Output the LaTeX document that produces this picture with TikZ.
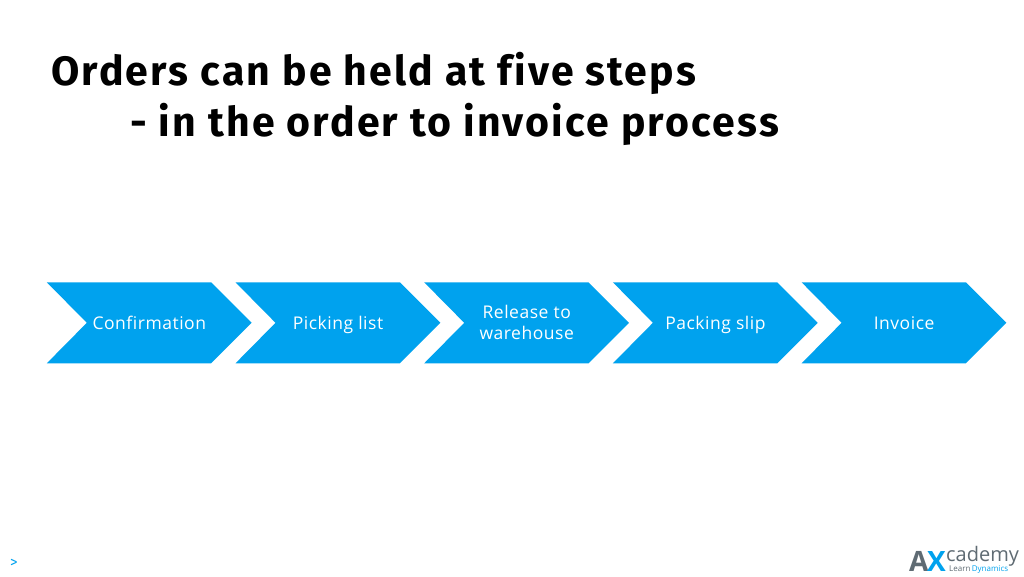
\documentclass[tikz,border=0pt]{standalone}
\usepackage{fontspec}
\setmainfont[Ligatures=NoCommon,BoldFeatures={LetterSpace=5.4}]{Fira Sans}
\newfontfamily\lightfont[LetterSpace=3,Ligatures=NoCommon]{Open Sans}
\newfontfamily\logofont{Open Sans}
\definecolor{chev}{HTML}{00A2EE}
\definecolor{logogrey}{HTML}{5F6B73}
\tikzset{x=1pt,y=-1pt,
 title/.style={anchor=base west,inner sep=0,font=\fontsize{41}{48}\selectfont\bfseries,text=black},
 chevlabel/.style={align=center,text=white,inner sep=0,font=\lightfont\fontsize{17.5}{21}\selectfont}}
\newcommand{\chevron}[3]{%
 \fill[chev] (#1,282.3) -- ++(164.3,0) -- ++(40.5,40.5) -- ++(-40.5,40.5) -- ++(-164.3,0) -- ++(40,-40.5) -- cycle;
 \node[chevlabel] (#2) at (#1+102.5,324.8) {#3};}
\begin{document}
\begin{tikzpicture}
\useasboundingbox[fill=white] (0,0) rectangle (1024,576);
\node[title] (t1) at (51,85) {Orders can be held at five steps};
\node[title] (t2) at (130,136) {- in the order to invoice process};
\chevron{46.8}{c1}{\strut Confirmation}
\chevron{235.5}{c2}{\strut Picking list}
\chevron{424.2}{c3}{\strut Release to\\\strut warehouse}
\chevron{612.9}{c4}{\strut Packing slip}
\chevron{801.6}{c5}{\strut Invoice}
\node[anchor=base west,inner sep=0,text=chev,font=\fontsize{15}{18}\selectfont] (gt) at (10,567) {>};
\node[anchor=base west,inner sep=0,text=logogrey,font=\logofont\fontsize{28}{30}\selectfont\bfseries] (la) at (909,571) {A};
\node[anchor=base west,inner sep=0,text=chev,font=\logofont\fontsize{28}{30}\selectfont\bfseries] (lx) at (927,571) {X};
\node[anchor=base west,inner sep=0,text=logogrey,font=\logofont\fontsize{20}{24}\selectfont] (lc) at (946,561) {cademy};
\node[anchor=base west,inner sep=0,text=logogrey,font=\logofont\fontsize{8}{9}\selectfont] (ll) at (949,571) {Learn\,\textcolor{chev}{Dynamics}};
\end{tikzpicture}
\end{document}
